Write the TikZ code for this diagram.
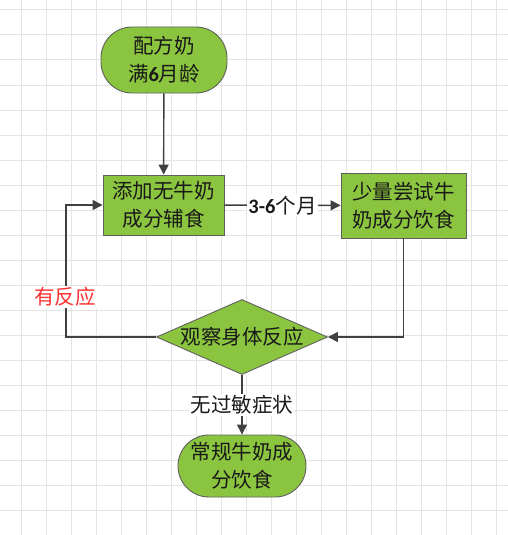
\documentclass[tikz,border=0pt]{standalone}
\usepackage{fontspec}
\setmainfont{Noto Sans CJK SC}
\newfontfamily\latinf{Carlito}
\usetikzlibrary{shapes.geometric,arrows.meta}
\definecolor{gfill}{RGB}{139,197,63}
\definecolor{gline}{RGB}{95,95,95}
\definecolor{lnk}{RGB}{64,64,64}
\definecolor{gridc}{RGB}{228,228,228}
\definecolor{redt}{RGB}{255,50,50}
\definecolor{txt}{RGB}{25,25,25}
\begin{document}
\begin{tikzpicture}[x=1pt,y=-1pt,
  font=\fontsize{20.5}{28}\selectfont,
  term/.style={draw=gline, line width=0.9pt, fill=gfill, rounded corners=31pt, align=center, inner sep=0pt, text=txt},
  boxn/.style={draw=gline, line width=0.9pt, fill=gfill, align=center, inner sep=0pt, text=txt},
  decis/.style={diamond, draw=gline, line width=0.9pt, fill=gfill, inner sep=0pt, text=txt},
  link/.style={draw=lnk, line width=1.4pt, -{Triangle[width=10pt,length=10pt]}},
  lab/.style={fill=white, inner sep=1.5pt, text=txt}]
\useasboundingbox (0,0) rectangle (508,535);
\fill[white] (0,0) rectangle (508,535);
\foreach \gx in {21,46,...,496} {\draw[gridc, line width=1pt] (\gx,0) -- (\gx,535);}
\foreach \gy in {10,35,...,510} {\draw[gridc, line width=1pt] (0,\gy) -- (508,\gy);}

\node[term, minimum width=126pt, minimum height=66pt] (start) at (164,60) {配方奶\\满{\latinf\bfseries 6}月龄};
\node[boxn, minimum width=121pt, minimum height=60pt] (b1) at (163.5,205) {添加无牛奶\\成分辅食};
\node[boxn, minimum width=125pt, minimum height=65pt] (b2) at (403.5,205.5) {少量尝试牛\\奶成分饮食};
\node[decis, minimum width=171pt, minimum height=75pt] (dia) at (242,337) {\makebox[0pt]{观察身体反应}};
\node[term, minimum width=128pt, minimum height=62pt] (fin) at (242,466) {常规牛奶成\\分饮食};
\coordinate (lp) at (66,337);

\draw[link] (start) -- (b1);
\draw[link] (b1) -- node[lab] {{\latinf\bfseries 3-6}个月} (b2);
\draw[link] (b2.south) |- (dia.east);
\draw[link] (dia.west) -- (lp) |- (b1.west);
\node[lab, text=redt] (yfy) at (65,297) {有反应};
\draw[link] (dia.south) -- node[lab] {无过敏症状} (fin.north);
\end{tikzpicture}
\end{document}
